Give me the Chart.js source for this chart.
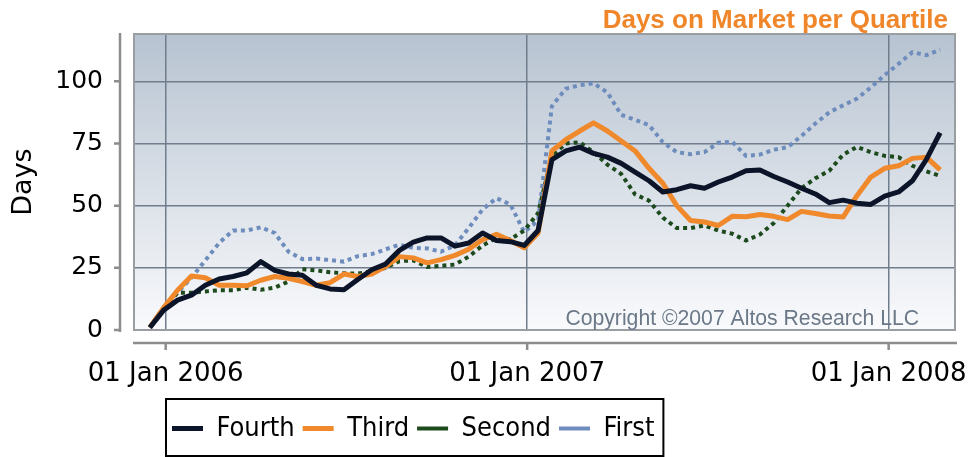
<!DOCTYPE html>
<html>
<head>
<meta charset="utf-8">
<script src="https://cdn.jsdelivr.net/npm/chart.js@4.4.1/dist/chart.umd.min.js"></script>
<style>
  html, body { margin: 0; padding: 0; background: #ffffff; }
  #wrap { width: 968px; height: 457px; }
</style>
</head>
<body>
<div id="wrap"><canvas id="domChart" width="968" height="457"></canvas></div>
<script>
// two-week samples
const dates = [
  '2005-12-16', '2005-12-30', '2006-01-13', '2006-01-27', '2006-02-10', '2006-02-24',
  '2006-03-10', '2006-03-24', '2006-04-07', '2006-04-21', '2006-05-05', '2006-05-19',
  '2006-06-02', '2006-06-16', '2006-06-30', '2006-07-14', '2006-07-28', '2006-08-11',
  '2006-08-25', '2006-09-08', '2006-09-22', '2006-10-06', '2006-10-20', '2006-11-03',
  '2006-11-17', '2006-12-01', '2006-12-15', '2006-12-29', '2007-01-12', '2007-01-26',
  '2007-02-09', '2007-02-23', '2007-03-09', '2007-03-23', '2007-04-06', '2007-04-20',
  '2007-05-04', '2007-05-18', '2007-06-01', '2007-06-15', '2007-06-29', '2007-07-13',
  '2007-07-27', '2007-08-10', '2007-08-24', '2007-09-07', '2007-09-21', '2007-10-05',
  '2007-10-19', '2007-11-02', '2007-11-16', '2007-11-30', '2007-12-14', '2007-12-28',
  '2008-01-11', '2008-01-25', '2008-02-08', '2008-02-22'
];
const fourth = [1, 8, 12, 14, 18, 20.5, 21.5, 23, 27.5, 24, 22.5, 22, 18, 16.5, 16.2, 20.3, 24.2, 26.5,
  32, 35.3, 37, 37, 33.7, 35, 39, 36, 35.5, 34, 40, 68.5, 72, 73.5, 71, 69.5, 67, 63.5, 60, 55.5, 56.4,
  58, 57, 59.5, 61.5, 64, 64.3, 61.7, 59.5, 57, 54.7, 51.2, 52.2, 51, 50.5, 53.8, 55.5, 60, 68.5, 79.3];
const third = [1, 9, 16, 21.7, 21, 18, 18, 17.8, 20, 21.5, 20.8, 19.5, 18, 19, 22.5, 21.5, 22.5, 25.5,
  29.5, 29, 27, 28.3, 30, 32.5, 36.3, 38.5, 36, 33, 39, 72, 76.5, 80, 83.3, 80, 76, 72, 65, 59, 50, 44,
  43.4, 42, 45.7, 45.5, 46.4, 45.7, 44.4, 47.7, 46.8, 45.8, 45.4, 54, 61.5, 65, 66, 69, 69.5, 64.4];
const second = [1, 9, 15, 15, 15.5, 16, 16, 17, 16.2, 17, 19.5, 24.4, 24, 23.2, 22.8, 22.7, 23.5, 25,
  27.7, 28, 25.3, 25.8, 26.3, 29.5, 34, 37, 36.5, 40, 47, 70, 75, 75.5, 71.5, 66.5, 62.7, 54.5, 52, 45.2,
  41, 41, 42, 40, 38.7, 36, 38.4, 43, 50, 57, 61, 64, 70.5, 73.6, 71.5, 70, 69.5, 66, 63.8, 62];
const first = [1, 9, 15, 21, 28, 35, 40, 40, 41.3, 39, 31.5, 28.5, 28.7, 28.1, 27.5, 29.7, 30.5, 32.4,
  34.3, 33, 32.8, 31.5, 34, 41, 48.5, 53, 50.5, 39.4, 44, 90, 97, 98.4, 99.2, 95.5, 86.5, 84.5, 82.4,
  75.5, 71.5, 70.7, 71.5, 75.3, 75.7, 70, 70.5, 72.5, 73.5, 78, 83, 87.5, 90.3, 93, 97.5, 102.5, 107,
  111.7, 110.5, 112.7];

const tickDates = ['2006-01-01', '2007-01-01', '2008-01-01'];
const tickLabels = ['01 Jan 2006', '01 Jan 2007', '01 Jan 2008'];
const yTicks = [0, 25, 50, 75, 100];

const dayOf = d => (Date.parse(d) - Date.parse('2006-01-01')) / 86400000;
const points = vals => vals.map((v, i) => ({ x: dayOf(dates[i]), y: v }));

const frame = {
  id: 'frame',
  afterLayout(chart) {
    chart.legend.left = 164;
    chart.titleBlock.right = 948;
  },
  beforeDraw(chart) {
    const { ctx, chartArea: a } = chart;
    const g = ctx.createLinearGradient(0, a.top, 0, a.bottom);
    g.addColorStop(0, '#b7c3d1');
    g.addColorStop(1, '#f9fafc');
    ctx.save();
    ctx.fillStyle = g;
    ctx.fillRect(a.left, a.top, a.right - a.left, a.bottom - a.top);
    ctx.restore();
  },
  beforeDatasetsDraw(chart) {
    const { ctx, chartArea: a } = chart;
    ctx.save();
    ctx.strokeStyle = '#9a9da2';
    ctx.lineWidth = 2;
    ctx.strokeRect(a.left, a.top, a.right - a.left, a.bottom - a.top);
    ctx.fillStyle = '#6b7887';
    ctx.font = '21.2px "Liberation Sans", Arial, sans-serif';
    ctx.textAlign = 'right';
    ctx.textBaseline = 'alphabetic';
    ctx.fillText('Copyright \u00a92007 Altos Research LLC', 919, 325);
    ctx.restore();
  },
  afterDraw(chart) {
    const { ctx, chartArea: a, scales } = chart;
    ctx.save();
    ctx.strokeStyle = '#8d8d8d';
    ctx.lineWidth = 2.5;
    // detached y axis
    const ax = a.left - 14;
    ctx.beginPath();
    ctx.moveTo(ax, a.top - 1);
    ctx.lineTo(ax, a.bottom + 2);
    scales.y.ticks.forEach(t => {
      const y = scales.y.getPixelForValue(t.value);
      ctx.moveTo(ax - 6, y);
      ctx.lineTo(ax, y);
    });
    // detached x axis
    const ay = a.bottom + 13;
    ctx.moveTo(a.left - 1, ay);
    ctx.lineTo(a.right + 2, ay);
    scales.x.ticks.forEach(t => {
      const x = scales.x.getPixelForValue(t.value);
      ctx.moveTo(x, ay);
      ctx.lineTo(x, ay + 7);
    });
    ctx.stroke();

    // legend frame
    const lg = chart.legend;
    const x0 = lg.left + 2;
    const x1 = lg.left + lg.lineWidths[0] + 9;
    ctx.strokeStyle = '#000000';
    ctx.lineWidth = 2;
    ctx.strokeRect(x0, lg.top - 8, x1 - x0, 57);
    ctx.restore();
  }
};

new Chart(document.getElementById('domChart'), {
  type: 'line',
  data: {
    datasets: [{
      label: 'Fourth',
      data: points(fourth),
      borderColor: '#0b1428',
      borderWidth: 5,
      borderJoinStyle: 'round'
    }, {
      label: 'Third',
      data: points(third),
      borderColor: '#f0892c',
      borderWidth: 5,
      borderJoinStyle: 'round'
    }, {
      label: 'Second',
      data: points(second),
      borderColor: '#1c4a1c',
      borderWidth: 4,
      borderDash: [4, 4]
    }, {
      label: 'First',
      data: points(first),
      borderColor: '#6e8dbd',
      borderWidth: 4,
      borderDash: [4, 4]
    }]
  },
  options: {
    responsive: false,
    animation: false,
    layout: { padding: { top: 0, right: 13, bottom: 5, left: 0 } },
    elements: { point: { radius: 0 }, line: { tension: 0 } },
    plugins: {
      title: {
        display: true,
        text: 'Days on Market per Quartile',
        align: 'end',
        color: '#f0862a',
        font: { family: '"Liberation Sans", Arial, sans-serif', size: 26, weight: 'bold', lineHeight: 1 },
        padding: { top: 8, bottom: 0 }
      },
      legend: {
        position: 'bottom',
        align: 'start',
        labels: {
          usePointStyle: true,
          pointStyle: 'line',
          pointStyleWidth: 31,
          padding: 8,
          color: '#000000',
          font: { family: '"DejaVu Sans Condensed", "DejaVu Sans", sans-serif', size: 27 }
        }
      },
      tooltip: { enabled: false }
    },
    scales: {
      x: {
        type: 'linear',
        min: -32,
        max: 797,
        afterBuildTicks: s => { s.ticks = tickDates.map(d => ({ value: dayOf(d) })); },
        afterFit: s => { s.height = 77; s.paddingLeft = 0; s.paddingRight = 0; },
        border: { display: false },
        grid: { color: '#6f7d8c', lineWidth: 1.5, drawTicks: true, tickLength: 29, tickColor: 'transparent' },
        ticks: {
          padding: 0,
          maxRotation: 0,
          autoSkip: false,
          color: '#000000',
          font: { family: '"DejaVu Sans", sans-serif', size: 26 },
          callback: v => tickLabels[tickDates.findIndex(d => dayOf(d) === v)]
        }
      },
      y: {
        min: 0,
        max: 119,
        afterBuildTicks: s => { s.ticks = yTicks.map(v => ({ value: v })); },
        afterFit: s => { s.width = 134; },
        border: { display: false },
        grid: {
          color: c => (c.tick && c.tick.value === 0) ? 'transparent' : '#6f7d8c',
          lineWidth: 1.5,
          drawTicks: true,
          tickLength: 31,
          tickColor: 'transparent'
        },
        ticks: {
          padding: 0,
          color: '#000000',
          font: { family: '"DejaVu Sans", sans-serif', size: 25 }
        },
        title: {
          display: true,
          text: 'Days',
          color: '#000000',
          font: { family: '"DejaVu Sans", sans-serif', size: 27 },
          padding: { top: 8, bottom: 0 }
        }
      }
    }
  },
  plugins: [frame]
});
</script>
</body>
</html>
